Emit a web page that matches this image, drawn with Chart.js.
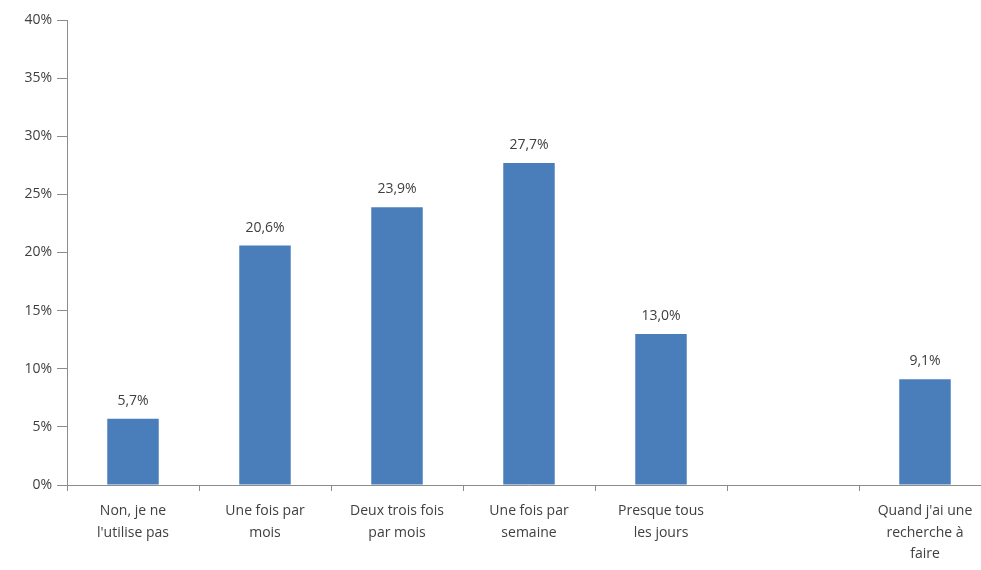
<!DOCTYPE html>
<html>
<head>
<meta charset="utf-8">
<script src="https://cdn.jsdelivr.net/npm/chart.js@4"></script>
<style>
  html, body { margin: 0; padding: 0; background: #fff; overflow: hidden; }
  #wrap { width: 1000px; height: 570px; }
</style>
</head>
<body>
<div id="wrap"><canvas id="freqChart" width="1000" height="570"></canvas></div>
<script>
// categories (last slot before the final one is empty in the original)
const categories = [
    ['Non, je ne', "l'utilise pas"],
    ['Une fois par', 'mois'],
    ['Deux trois fois', 'par mois'],
    ['Une fois par', 'semaine'],
    ['Presque tous', 'les jours'],
    '',
    ["Quand j'ai une", 'recherche à', 'faire']
];
const shares = [5.7, 20.6, 23.9, 27.7, 13.0, null, 9.1];
const yTicks = [0, 5, 10, 15, 20, 25, 30, 35, 40];

const fmt = v => v.toFixed(1).replace('.', ',') + '%';

// draw value labels above each bar
const valueLabels = {
    id: 'valueLabels',
    afterDatasetsDraw(chart) {
        const ctx = chart.ctx;
        const meta = chart.getDatasetMeta(0);
        ctx.save();
        ctx.font = '14px "Open Sans", sans-serif';
        ctx.fillStyle = '#404040';
        ctx.textAlign = 'center';
        ctx.textBaseline = 'bottom';
        meta.data.forEach((bar, i) => {
            const v = shares[i];
            if (v === null) return;
            ctx.fillText(fmt(v), bar.x, bar.y - 11);
        });
        ctx.restore();
    }
};

const ctx = document.getElementById('freqChart').getContext('2d');
new Chart(ctx, {
    type: 'bar',
    data: {
        labels: categories,
        datasets: [{
            data: shares,
            backgroundColor: '#4a7ebb',
            barPercentage: 0.78,
            categoryPercentage: 0.5
        }]
    },
    options: {
        responsive: false,
        animation: false,
        layout: { padding: { top: 20, right: 9, left: 0, bottom: 0 } },
        plugins: {
            legend: { display: false },
            tooltip: { enabled: false }
        },
        scales: {
            y: {
                min: 0,
                max: 40,
                afterFit: s => { s.width = 67; },
                afterBuildTicks: s => { s.ticks = yTicks.map(v => ({ value: v })); },
                border: { display: true, color: '#8c8c8c', width: 1 },
                grid: { drawOnChartArea: false, drawTicks: true, tickLength: 10, color: '#8c8c8c' },
                ticks: {
                    padding: 5,
                    color: '#404040',
                    font: { family: '"Open Sans", sans-serif', size: 14 },
                    callback: v => v + '%'
                }
            },
            x: {
                afterFit: s => { s.height = 85; },
                border: { display: true, color: '#8c8c8c', width: 1 },
                grid: { offset: true, drawOnChartArea: false, drawTicks: true, tickLength: 6, color: '#8c8c8c' },
                ticks: {
                    padding: 9,
                    maxRotation: 0,
                    autoSkip: false,
                    color: '#404040',
                    font: { family: '"Open Sans", sans-serif', size: 14, lineHeight: 1.55 }
                }
            }
        }
    },
    plugins: [valueLabels]
});
</script>
</body>
</html>
